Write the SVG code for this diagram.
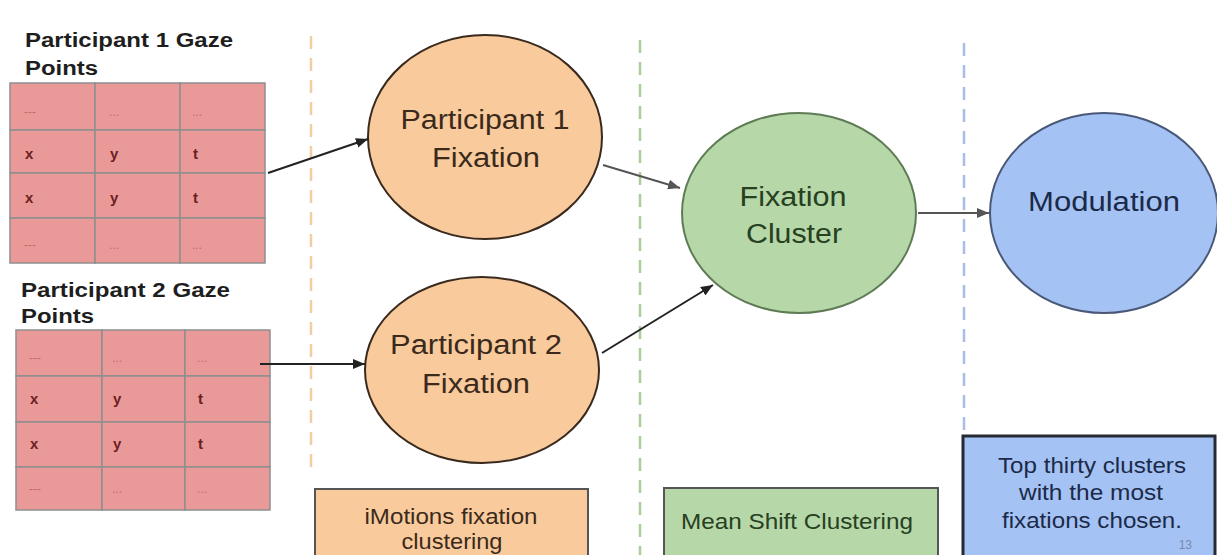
<svg xmlns="http://www.w3.org/2000/svg" width="1217" height="555" viewBox="0 0 1217 555">
<style>
  text { font-family: "Liberation Sans", Arial, sans-serif; }
  .title { font-size: 20px; font-weight: bold; fill: #1e1e1e; }
  .cell { fill: #ea9999; stroke: #8f8f8f; stroke-width: 1.5; }
  .cv { font-size: 15px; font-weight: bold; fill: #6b2020; }
  .cd { font-size: 12px; fill: #c46a6a; }
  .big { font-size: 27px; text-anchor: middle; }
  .box { font-size: 22px; text-anchor: middle; }
  .conn { fill: none; stroke-width: 2; }
</style>
<defs>
  <marker id="ahDark" viewBox="0 0 12 10" refX="12" refY="5" markerWidth="12" markerHeight="10" markerUnits="userSpaceOnUse" orient="auto">
    <path d="M0,0 L12,5 L0,10 z" fill="#222"/>
  </marker>
  <marker id="ahGray" viewBox="0 0 12 10" refX="12" refY="5" markerWidth="12" markerHeight="10" markerUnits="userSpaceOnUse" orient="auto">
    <path d="M0,0 L12,5 L0,10 z" fill="#555"/>
  </marker>
</defs>
<rect width="1217" height="555" fill="#ffffff"/>

<g id="dividers" stroke-width="2.5" stroke-dasharray="13 9" fill="none">
  <line x1="311" y1="36" x2="311" y2="476" stroke="#f2cda3"/>
  <line x1="640" y1="40" x2="640" y2="555" stroke="#a8cf9a"/>
  <line x1="964" y1="43" x2="964" y2="436" stroke="#a9bde6"/>
</g>

<g id="table1">
  <text class="title" x="25" y="47" textLength="208" lengthAdjust="spacingAndGlyphs">Participant 1 Gaze</text>
  <text class="title" x="25" y="75" textLength="73" lengthAdjust="spacingAndGlyphs">Points</text>
  <rect class="cell" x="10" y="83" width="85" height="47"/>
  <rect class="cell" x="95" y="83" width="85" height="47"/>
  <rect class="cell" x="180" y="83" width="85" height="47"/>
  <rect class="cell" x="10" y="130" width="85" height="43"/>
  <rect class="cell" x="95" y="130" width="85" height="43"/>
  <rect class="cell" x="180" y="130" width="85" height="43"/>
  <rect class="cell" x="10" y="173" width="85" height="45"/>
  <rect class="cell" x="95" y="173" width="85" height="45"/>
  <rect class="cell" x="180" y="173" width="85" height="45"/>
  <rect class="cell" x="10" y="218" width="85" height="45"/>
  <rect class="cell" x="95" y="218" width="85" height="45"/>
  <rect class="cell" x="180" y="218" width="85" height="45"/>
  <text class="cd" x="24" y="116">---</text>
  <text class="cd" x="109" y="116">...</text>
  <text class="cd" x="192" y="116">...</text>
  <text class="cv" x="25" y="159">x</text>
  <text class="cv" x="110" y="159">y</text>
  <text class="cv" x="193" y="159">t</text>
  <text class="cv" x="25" y="203">x</text>
  <text class="cv" x="110" y="203">y</text>
  <text class="cv" x="193" y="203">t</text>
  <text class="cd" x="24" y="249">---</text>
  <text class="cd" x="109" y="249">...</text>
  <text class="cd" x="192" y="249">...</text>
</g>

<g id="table2">
  <text class="title" x="21" y="297" textLength="209" lengthAdjust="spacingAndGlyphs">Participant 2 Gaze</text>
  <text class="title" x="21" y="323" textLength="73" lengthAdjust="spacingAndGlyphs">Points</text>
  <rect class="cell" x="16" y="330" width="86" height="46"/>
  <rect class="cell" x="102" y="330" width="83" height="46"/>
  <rect class="cell" x="185" y="330" width="85" height="46"/>
  <rect class="cell" x="16" y="376" width="86" height="46"/>
  <rect class="cell" x="102" y="376" width="83" height="46"/>
  <rect class="cell" x="185" y="376" width="85" height="46"/>
  <rect class="cell" x="16" y="422" width="86" height="45"/>
  <rect class="cell" x="102" y="422" width="83" height="45"/>
  <rect class="cell" x="185" y="422" width="85" height="45"/>
  <rect class="cell" x="16" y="467" width="86" height="43"/>
  <rect class="cell" x="102" y="467" width="83" height="43"/>
  <rect class="cell" x="185" y="467" width="85" height="43"/>
  <text class="cd" x="29" y="362">---</text>
  <text class="cd" x="112" y="362">...</text>
  <text class="cd" x="197" y="362">...</text>
  <text class="cv" x="30" y="404">x</text>
  <text class="cv" x="113" y="404">y</text>
  <text class="cv" x="198" y="404">t</text>
  <text class="cv" x="30" y="449">x</text>
  <text class="cv" x="113" y="449">y</text>
  <text class="cv" x="198" y="449">t</text>
  <text class="cd" x="29" y="493">---</text>
  <text class="cd" x="112" y="493">...</text>
  <text class="cd" x="197" y="493">...</text>
</g>

<g id="p1fixation">
  <ellipse cx="485" cy="137" rx="117" ry="102" fill="#f9cb9c" stroke="#3a2a1e" stroke-width="2"/>
  <text class="big" x="485" y="129" fill="#3b2a1c" textLength="169" lengthAdjust="spacingAndGlyphs">Participant 1</text>
  <text class="big" x="486" y="167" fill="#3b2a1c" textLength="108" lengthAdjust="spacingAndGlyphs">Fixation</text>
</g>

<g id="p2fixation">
  <ellipse cx="482" cy="370" rx="117" ry="93" fill="#f9cb9c" stroke="#3a2a1e" stroke-width="2"/>
  <text class="big" x="476" y="354" fill="#3b2a1c" textLength="172" lengthAdjust="spacingAndGlyphs">Participant 2</text>
  <text class="big" x="476" y="393" fill="#3b2a1c" textLength="108" lengthAdjust="spacingAndGlyphs">Fixation</text>
</g>

<g id="cluster">
  <ellipse cx="799" cy="213" rx="117" ry="100" fill="#b6d7a8" stroke="#5e7b55" stroke-width="2"/>
  <text class="big" x="793" y="206" fill="#27401f" textLength="107" lengthAdjust="spacingAndGlyphs">Fixation</text>
  <text class="big" x="794" y="243" fill="#27401f" textLength="96" lengthAdjust="spacingAndGlyphs">Cluster</text>
</g>

<g id="modulation">
  <ellipse cx="1104" cy="213" rx="114" ry="100" fill="#a4c2f4" stroke="#4a5878" stroke-width="2"/>
  <text class="big" x="1104" y="211" fill="#1c2a48" textLength="152" lengthAdjust="spacingAndGlyphs">Modulation</text>
</g>

<g id="imotions">
  <rect x="315" y="489" width="273" height="80" fill="#f9cb9c" stroke="#555" stroke-width="2"/>
  <text class="box" x="451" y="524" fill="#3b2a1c" textLength="173" lengthAdjust="spacingAndGlyphs">iMotions fixation</text>
  <text class="box" x="452" y="549" fill="#3b2a1c" textLength="101" lengthAdjust="spacingAndGlyphs">clustering</text>
</g>

<g id="meanshift">
  <rect x="664" y="488" width="274" height="80" fill="#b6d7a8" stroke="#555" stroke-width="2"/>
  <text class="box" x="797" y="529" fill="#27401f" textLength="232" lengthAdjust="spacingAndGlyphs">Mean Shift Clustering</text>
</g>

<g id="topthirty">
  <rect x="963" y="436" width="252" height="130" fill="#a4c2f4" stroke="#252a33" stroke-width="3"/>
  <text class="box" x="1092" y="473" fill="#1c2a48" textLength="188" lengthAdjust="spacingAndGlyphs">Top thirty clusters</text>
  <text class="box" x="1091" y="500" fill="#1c2a48" textLength="144" lengthAdjust="spacingAndGlyphs">with the most</text>
  <text class="box" x="1092" y="528" fill="#1c2a48" textLength="180" lengthAdjust="spacingAndGlyphs">fixations chosen.</text>
  <text x="1192" y="549" font-size="12" fill="#7a8aa8" text-anchor="end">13</text>
</g>

<g id="connectors">
  <line class="conn" x1="268" y1="173" x2="368" y2="139" stroke="#222" marker-end="url(#ahDark)"/>
  <line class="conn" x1="260" y1="364" x2="365" y2="364" stroke="#222" marker-end="url(#ahDark)"/>
  <line class="conn" x1="603" y1="165" x2="680" y2="188" stroke="#555" marker-end="url(#ahGray)"/>
  <line class="conn" x1="602" y1="353" x2="713" y2="285" stroke="#222" marker-end="url(#ahDark)"/>
  <line class="conn" x1="918" y1="213" x2="989" y2="213" stroke="#555" marker-end="url(#ahGray)"/>
</g>
</svg>
